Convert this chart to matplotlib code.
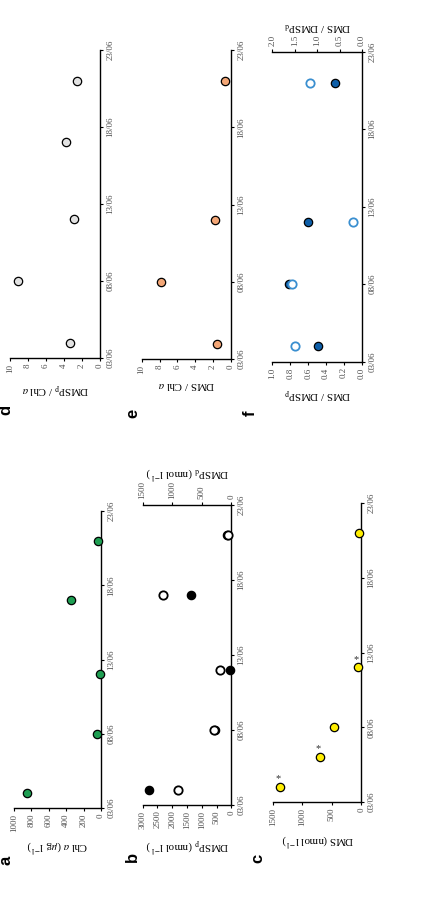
import matplotlib
matplotlib.use('Agg')
import matplotlib.pyplot as plt
import numpy as np
from matplotlib.ticker import FormatStrFormatter

plt.rcParams['font.family'] = ['Liberation Serif', 'DejaVu Serif']
plt.rcParams['mathtext.fontset'] = 'stix'

W, H = 427, 902

# day of June for every sample
chl_days = [4, 8, 12, 17, 21]
chl = [850, 50, 12, 348, 34]

dmsp_days = [4, 8, 12, 17, 21]
dmsp_p = [2790, 560, 60, 1380, 140]
dmsp_d = [905, 285, 195, 1150, 55]

dms_days = [4, 6, 8, 12, 21]
dms = [1386, 696, 459, 51, 39]
dms_star = [True, True, False, True, False]

dmspp_chl_days = [4, 8, 12, 17, 21]
dmspp_chl = [3.3, 9.1, 2.9, 3.8, 2.6]

dms_chl_days = [4, 8, 12, 21]
dms_chl = [1.6, 7.8, 1.8, 0.65]

ratio_days = [4, 8, 12, 21]
dms_dmspp = [0.49, 0.81, 0.60, 0.30]
dms_dmspd = [1.50, 1.56, 0.21, 1.16]

date_ticks = [3, 8, 13, 18, 23]
date_labels = ['03/06', '08/06', '13/06', '18/06', '23/06']

TICK_C = '#505050'
TICK_FS = 6.5
LAB_FS = 7.8
fig = plt.figure(figsize=(W / 100, H / 100), dpi=100)


def panel(box, vmax, vstep, label, fmt='%d'):
    # the chart is drawn turned by 90 degrees: values run right->left, dates bottom->top
    l, t, r, b = box
    ax = fig.add_axes([l / W, 1 - b / H, (r - l) / W, (b - t) / H])
    ax.set_xlim(vmax, 0)
    ax.set_ylim(3, 23)
    ax.set_xticks(np.arange(0, vmax + vstep / 2, vstep))
    ax.xaxis.set_major_formatter(FormatStrFormatter(fmt))
    ax.set_yticks(date_ticks)
    ax.set_yticklabels(date_labels)
    ax.yaxis.tick_right()
    for s in ['left', 'top']:
        ax.spines[s].set_visible(False)
    for s in ['right', 'bottom']:
        ax.spines[s].set_linewidth(1.0)
    ax.tick_params(axis='x', labelrotation=90, labelsize=TICK_FS, labelcolor=TICK_C,
                   length=2.5, width=0.8, pad=1.5)
    ax.tick_params(axis='y', labelrotation=90, labelsize=TICK_FS, labelcolor=TICK_C,
                   length=2.5, width=0.8, pad=2.0)
    for t_ in ax.get_yticklabels():
        t_.set_va('center')
    ax.set_xlabel(label, rotation=180, fontsize=LAB_FS, labelpad=5)
    ax.patch.set_alpha(0)
    return ax


def top_axis(ax, vmax, vstep, label, fmt='%d'):
    tx = ax.twiny()
    tx.set_xlim(vmax, 0)
    tx.set_xticks(np.arange(0, vmax + vstep / 2, vstep))
    tx.xaxis.set_major_formatter(FormatStrFormatter(fmt))
    for s in ['left', 'right', 'bottom']:
        tx.spines[s].set_visible(False)
    tx.spines['top'].set_linewidth(1.0)
    tx.tick_params(axis='x', labelrotation=90, labelsize=TICK_FS, labelcolor=TICK_C,
                   length=2.5, width=0.8, pad=1.5)
    tx.set_xlabel(label, rotation=180, fontsize=LAB_FS, labelpad=4)
    return tx


def dots(ax, vals, days, face, edge='black', mew=0.9, ms=6):
    ax.plot(vals, days, 'o', ls='none', mfc=face, mec=edge, mew=mew, ms=ms,
            clip_on=False, zorder=4)


# a
ax_a = panel((14, 511, 101, 808), 1000, 200, r'Chl $\it{a}$ ($\mu$g l$^{-1}$)')
dots(ax_a, chl, chl_days, '#1e9e52')

# b
ax_b = panel((142.7, 505, 231.3, 805), 3000, 500, r'DMSP$_\mathrm{p}$ (nmol l$^{-1}$)')
tx_b = top_axis(ax_b, 1500, 500, r'DMSP$_\mathrm{d}$ (nmol l$^{-1}$)')
dots(ax_b, dmsp_p, dmsp_days, 'black')
dots(tx_b, dmsp_d, dmsp_days, 'white', mew=1.3)

# c
ax_c = panel((273, 503, 361.3, 802), 1500, 500, r'DMS (nmol l$^{-1}$)')
dots(ax_c, dms, dms_days, '#ffee00')
for v, d, s in zip(dms, dms_days, dms_star):
    if s:
        ax_c.annotate('*', (v, d), xytext=(-1.5, 6), textcoords='offset points',
                      ha='center', va='center', fontsize=7.5, color='#333333')

# d
ax_d = panel((10, 50, 100, 358), 10, 2, r'DMSP$_\mathrm{p}$ / Chl $\it{a}$')
dots(ax_d, dmspp_chl, dmspp_chl_days, '#e2e2e2')

# e
ax_e = panel((141.7, 50, 231, 359), 10, 2, r'DMS / Chl $\it{a}$')
dots(ax_e, dms_chl, dms_chl_days, '#f3a676')

# f
ax_f = panel((272.3, 51.7, 362, 361.7), 1.0, 0.2, r'DMS / DMSP$_\mathrm{p}$', fmt='%.1f')
tx_f = top_axis(ax_f, 2.0, 0.5, r'DMS / DMSP$_\mathrm{d}$', fmt='%.1f')
dots(ax_f, dms_dmspp, ratio_days, '#0d5ea8')
dots(tx_f, dms_dmspd, ratio_days, 'white', edge='#3a8fd0', mew=1.3)

# panel letters
letters = ['a', 'b', 'c', 'd', 'e', 'f']
letter_pos = [(6, 860), (132, 857), (258, 858), (6, 410), (133, 413), (250, 413)]
for s, (x, y) in zip(letters, letter_pos):
    fig.text(x / W, 1 - y / H, s, rotation=90, ha='center', va='center',
             fontsize=12, fontweight='bold', family='Liberation Sans')

fig.savefig('out.png', dpi=100)
